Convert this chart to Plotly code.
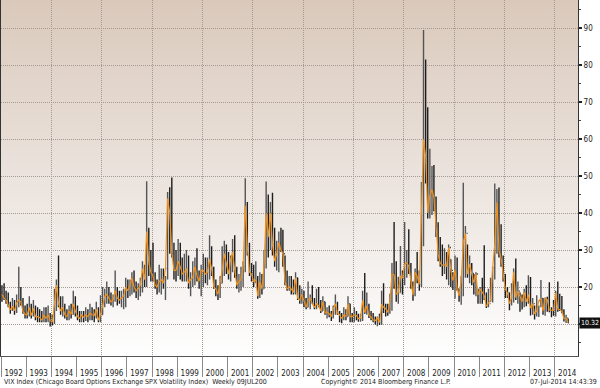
import base64
import pandas as pd
import plotly.graph_objects as go

# Monthly VIX bars (Jan 1992 .. Jul 2014): high, low, close
highs = [
    20.5, 21.0, 19.0, 18.5, 16.0, 17.0, 16.5, 18.0, 25.5, 20.0, 17.0, 15.0,   # 1992
    15.5, 17.5, 15.5, 16.5, 15.0, 14.5, 14.0, 13.5, 14.5, 14.5, 15.0, 13.0,   # 1993
    12.5, 19.5, 22.0, 28.5, 17.5, 17.5, 15.5, 14.0, 15.0, 15.5, 19.0, 17.5,   # 1994
    15.0, 13.5, 13.5, 13.5, 14.5, 14.0, 15.5, 14.5, 14.0, 16.0, 14.5, 17.8,   # 1995
    20.0, 19.5, 21.5, 20.0, 18.5, 18.0, 24.5, 20.0, 19.0, 19.0, 19.5, 22.5,   # 1996
    22.0, 22.0, 24.0, 24.5, 21.5, 21.0, 22.5, 27.0, 26.0, 48.6, 36.0, 30.0,   # 1997
    32.0, 24.0, 22.0, 26.0, 25.0, 25.0, 23.0, 45.7, 47.0, 49.6, 32.0, 30.0,   # 1998
    33.0, 32.0, 28.0, 29.0, 30.0, 28.5, 24.0, 27.0, 28.0, 30.5, 24.5, 26.0,   # 1999
    29.0, 28.0, 28.0, 34.0, 31.0, 25.5, 22.0, 20.5, 23.0, 31.0, 32.5, 31.5,   # 2000
    29.5, 28.5, 33.0, 34.0, 25.5, 23.5, 25.5, 27.0, 49.4, 43.0, 32.0, 26.5,   # 2001
    26.0, 27.0, 23.0, 24.0, 23.5, 30.0, 48.5, 45.0, 43.0, 45.5, 36.0, 32.5,   # 2002
    35.0, 36.0, 35.5, 28.5, 24.5, 23.0, 23.0, 22.0, 24.0, 22.5, 20.5, 19.5,   # 2003
    19.0, 17.0, 21.5, 18.0, 20.5, 17.0, 19.5, 20.0, 16.5, 17.5, 16.0, 14.5,   # 2004
    15.0, 13.5, 15.0, 18.0, 16.0, 13.5, 13.0, 14.5, 14.0, 17.5, 15.5, 13.0,   # 2005
    14.5, 13.5, 12.8, 12.8, 19.0, 23.8, 18.5, 15.5, 13.5, 13.0, 12.0, 12.0,   # 2006
    12.8, 19.0, 21.0, 15.5, 15.5, 18.2, 26.5, 37.6, 27.0, 22.8, 31.1, 24.5,   # 2007
    37.6, 30.0, 35.6, 26.5, 21.5, 25.0, 29.5, 24.5, 48.4, 89.5, 81.5, 68.6,   # 2008
    57.4, 52.7, 53.0, 44.5, 37.5, 33.5, 31.5, 30.5, 29.5, 31.5, 27.5, 24.0,   # 2009
    28.5, 28.0, 19.5, 23.0, 48.2, 36.5, 31.5, 28.5, 26.5, 23.5, 24.0, 19.5,   # 2010
    20.0, 22.5, 31.3, 18.5, 19.5, 22.5, 25.5, 48.0, 46.5, 46.9, 37.0, 28.5,   # 2011
    23.5, 20.0, 18.5, 21.0, 25.0, 27.7, 21.5, 18.5, 18.0, 19.5, 20.5, 23.2,   # 2012
    22.7, 17.0, 15.0, 17.8, 15.0, 21.9, 17.0, 17.1, 17.4, 21.3, 14.5, 16.5,   # 2013
    19.0, 21.5, 18.2, 17.6, 14.0, 12.5, 11.5,                                 # 2014
]
lows = [
    16.0, 16.5, 15.5, 14.5, 12.8, 13.5, 12.5, 13.0, 14.5, 15.0, 12.8, 11.5,
    11.5, 12.0, 11.5, 12.0, 11.0, 10.5, 10.5, 10.5, 10.5, 10.5, 10.5, 9.3,
    9.6, 10.0, 13.5, 14.5, 12.5, 12.0, 11.5, 11.0, 11.0, 11.5, 12.5, 12.0,
    11.0, 10.5, 10.5, 10.5, 10.8, 10.5, 11.0, 11.0, 10.5, 11.5, 10.5, 10.5,
    12.5, 14.5, 15.5, 15.5, 15.0, 14.5, 16.0, 15.0, 15.5, 14.5, 14.0, 14.5,
    17.0, 17.5, 18.0, 18.5, 17.0, 16.5, 17.5, 18.5, 20.0, 20.0, 23.0, 21.5,
    21.5, 19.5, 18.0, 18.5, 18.0, 19.5, 16.5, 22.0, 29.0, 28.0, 22.0, 21.5,
    23.0, 22.0, 21.5, 21.5, 21.5, 19.5, 17.5, 20.0, 20.5, 21.5, 19.5, 17.5,
    20.0, 21.0, 20.5, 22.0, 23.0, 19.5, 17.5, 16.5, 17.0, 21.0, 23.0, 23.5,
    22.0, 21.5, 24.0, 22.5, 19.5, 18.5, 19.0, 20.0, 24.0, 28.5, 23.0, 21.5,
    20.0, 21.0, 16.8, 17.0, 18.0, 19.5, 25.0, 28.0, 30.0, 28.5, 25.5, 24.5,
    24.0, 29.5, 25.5, 20.5, 19.0, 19.0, 18.0, 18.0, 18.0, 16.5, 15.5, 15.5,
    14.5, 14.0, 14.5, 14.0, 15.5, 14.0, 14.0, 14.5, 13.0, 13.5, 12.5, 11.5,
    11.8, 10.8, 11.5, 12.5, 12.5, 10.5, 10.2, 11.0, 11.0, 12.0, 10.5, 10.5,
    10.5, 11.0, 10.6, 10.6, 10.8, 12.8, 12.5, 11.6, 11.0, 10.5, 9.9, 9.4,
    9.7, 9.7, 13.0, 12.0, 12.2, 12.8, 13.6, 19.5, 16.0, 15.5, 18.5, 18.0,
    20.5, 22.5, 23.5, 19.5, 16.3, 17.5, 21.0, 19.0, 20.0, 31.0, 48.0, 38.5,
    38.5, 39.5, 40.5, 33.5, 27.0, 25.5, 23.0, 23.5, 22.0, 20.5, 20.0, 19.2,
    16.8, 19.0, 16.0, 15.2, 17.5, 22.5, 22.5, 21.0, 20.5, 18.0, 17.5, 15.5,
    15.5, 15.5, 16.5, 14.3, 14.5, 16.0, 15.8, 22.0, 29.0, 28.0, 25.5, 21.5,
    17.0, 17.0, 13.7, 15.0, 15.8, 16.5, 15.5, 13.3, 13.9, 14.5, 14.8, 15.5,
    12.3, 12.5, 11.2, 12.0, 11.9, 14.5, 12.5, 12.2, 13.3, 13.2, 11.8, 12.2,
    12.0, 13.3, 13.5, 12.9, 10.7, 10.3, 10.3,
]
closes = [
    18.0, 17.0, 16.5, 15.0, 13.8, 14.8, 13.6, 15.7, 16.5, 16.0, 13.4, 12.6,
    12.4, 14.5, 12.3, 14.2, 12.0, 12.0, 11.8, 11.0, 12.5, 11.5, 12.5, 11.0,
    10.5, 15.5, 20.5, 15.5, 13.5, 14.5, 12.5, 12.0, 13.5, 12.6, 15.5, 13.5,
    12.0, 11.5, 12.5, 11.8, 12.5, 12.0, 13.0, 12.5, 12.3, 14.0, 11.0, 12.5,
    15.5, 17.5, 18.0, 17.0, 16.0, 16.5, 19.0, 17.0, 16.5, 17.0, 17.5, 20.0,
    19.0, 20.5, 22.5, 20.0, 19.0, 19.5, 20.5, 25.0, 22.0, 35.0, 26.5, 24.0,
    23.0, 20.5, 20.0, 21.5, 22.0, 21.0, 25.0, 44.0, 40.0, 29.0, 24.5, 24.5,
    27.0, 25.5, 23.5, 24.0, 25.0, 21.0, 22.0, 22.5, 25.5, 23.0, 21.5, 24.5,
    24.5, 23.5, 24.0, 27.5, 25.0, 20.0, 19.5, 18.0, 21.0, 24.5, 29.0, 26.0,
    23.5, 27.5, 29.5, 24.5, 20.5, 21.5, 22.0, 25.5, 42.0, 31.0, 24.0, 23.5,
    21.5, 22.0, 17.5, 21.5, 19.5, 26.0, 40.0, 33.5, 40.0, 31.5, 27.0, 29.0,
    32.0, 30.0, 29.0, 21.5, 19.5, 20.0, 19.5, 18.5, 22.5, 17.0, 16.5, 18.0,
    16.5, 14.5, 16.5, 17.0, 15.5, 14.5, 15.5, 15.0, 13.5, 16.0, 13.0, 13.3,
    12.8, 12.0, 14.0, 15.5, 13.0, 12.5, 11.5, 12.5, 12.0, 15.5, 12.0, 12.0,
    12.5, 12.3, 11.4, 11.6, 16.4, 13.1, 14.9, 12.3, 11.9, 11.1, 10.9, 11.6,
    10.4, 15.4, 14.6, 14.2, 13.1, 16.2, 23.5, 23.4, 18.0, 18.5, 22.9, 22.5,
    26.2, 26.5, 25.6, 20.8, 17.8, 24.0, 22.9, 20.7, 39.4, 59.9, 55.3, 40.0,
    44.8, 46.4, 44.1, 36.5, 28.9, 26.4, 25.9, 26.0, 25.6, 30.7, 24.5, 21.7,
    24.6, 19.5, 17.6, 22.0, 32.1, 34.5, 23.5, 26.1, 23.7, 21.2, 23.5, 17.8,
    19.5, 18.4, 17.7, 14.8, 15.5, 16.5, 25.3, 31.6, 42.9, 29.9, 27.8, 23.4,
    19.4, 18.4, 15.5, 17.2, 24.1, 17.1, 18.9, 17.5, 16.0, 18.6, 16.0, 18.0,
    14.3, 15.5, 12.7, 13.5, 16.3, 16.9, 13.5, 17.0, 16.6, 13.8, 13.7, 13.7,
    18.4, 14.0, 13.9, 13.4, 11.4, 11.6, 10.32,
]
first_open = 18.5
years = list(range(1992, 2015))
y_ticks = [10, 20, 30, 40, 50, 60, 70, 80, 90]

title_text = "VIX Index (Chicago Board Options Exchange SPX Volatility Index)  Weekly 09JUL200"
copyright_text = "Copyright\u00a9 2014 Bloomberg Finance L.P."
stamp_text = "07-Jul-2014 14:43:39"

# ---- build table ----
dates = pd.date_range("1992-01-01", periods=len(closes), freq="MS") + pd.Timedelta(days=14)
opens = [first_open] + closes[:-1]
mid_years = [f"{y}-07-02" for y in years]
# the last-value tag sits over the lowest tick label, as in the original
y_ticktext = ["" if v == 10 else str(v) for v in y_ticks]

FONT = "Liberation Sans Narrow, DejaVu Sans Condensed, Arial Narrow, Liberation Sans, sans-serif"

fig = go.Figure()
fig.add_trace(go.Ohlc(
    x=dates, open=opens, high=highs, low=lows, close=closes,
    increasing=dict(line=dict(color="#555555", width=1.4)),
    decreasing=dict(line=dict(color="#1e1e1e", width=1.4)),
    tickwidth=0.4, showlegend=False, hoverinfo="skip",
))
fig.add_trace(go.Scatter(
    x=dates, y=closes, mode="lines", line=dict(color="#f39016", width=1.1),
    showlegend=False, hoverinfo="skip",
))
fig.add_trace(go.Scatter(x=mid_years, y=[None] * len(mid_years), xaxis="x2",
                         mode="markers", showlegend=False, hoverinfo="skip"))

svg = ('<svg xmlns="http://www.w3.org/2000/svg" viewBox="0 0 100 100" preserveAspectRatio="none">'
       '<defs><linearGradient id="g" x1="0" y1="0" x2="0" y2="1">'
       '<stop offset="0" stop-color="#dac9bb"/><stop offset="0.5" stop-color="#ebe3dd"/>'
       '<stop offset="1" stop-color="#fefefe"/></linearGradient></defs>'
       '<rect x="0" y="0" width="100" height="100" fill="url(#g)"/></svg>')
bg_uri = "data:image/svg+xml;base64," + base64.b64encode(svg.encode()).decode()

grid_col = "#a39a93"
fig.update_layout(
    width=600, height=388,
    margin=dict(l=1, r=22, t=0, b=32),
    paper_bgcolor="white", plot_bgcolor="rgba(0,0,0,0)",
    font=dict(family=FONT, size=8, color="#222"),
    images=[dict(source=bg_uri, xref="paper", yref="paper", x=0, y=1, sizex=1, sizey=1,
                 xanchor="left", yanchor="top", sizing="stretch", layer="below")],
    xaxis=dict(
        type="date", range=["1992-01-01", "2014-12-05"],
        rangeslider=dict(visible=False),
        tick0="1992-01-01", dtick="M24", showticklabels=False,
        ticks="outside", ticklen=20, tickcolor="#8a8a8a", tickwidth=1,
        minor=dict(tick0="1992-01-01", dtick="M12", ticks="outside", ticklen=20,
                   tickcolor="#8a8a8a", tickwidth=1, showgrid=False),
        showgrid=True, gridcolor=grid_col, griddash="1px,1px", gridwidth=1,
        showline=True, linecolor="#555", linewidth=1, zeroline=False,
    ),
    xaxis2=dict(
        type="date", overlaying="x", matches="x", side="bottom", anchor="y",
        tickmode="array", tickvals=mid_years, ticktext=[str(y) for y in years],
        ticks="outside", ticklen=9, tickcolor="rgba(0,0,0,0)",
        showgrid=False, showline=False, zeroline=False,
        tickfont=dict(family=FONT, size=8, color="#222"),
    ),
    yaxis=dict(
        side="right", range=[1.35, 97.6],
        tickmode="array", tickvals=y_ticks, ticktext=y_ticktext,
        ticks="outside", ticklen=3, tickwidth=2, tickcolor="#222",
        minor=dict(dtick=5, tick0=0, ticks="outside", ticklen=2, tickwidth=1, tickcolor="#444", showgrid=False),
        showgrid=True, gridcolor=grid_col, griddash="1px,1px", gridwidth=1,
        showline=True, linecolor="#333", linewidth=1, mirror=True, zeroline=False,
        tickfont=dict(family=FONT, size=8, color="#222"),
    ),
    annotations=[
        dict(xref="paper", yref="y", x=1, y=closes[-1], xanchor="left", yanchor="middle",
             xshift=1, text=f"{closes[-1]:.2f}", showarrow=False, bgcolor="#111",
             font=dict(family=FONT, size=7, color="white"), borderpad=1),
        dict(xref="paper", yref="paper", x=0, y=-0.073, xanchor="left", yanchor="middle",
             xshift=1, text=title_text, showarrow=False, font=dict(family=FONT, size=7, color="#222")),
        dict(xref="paper", yref="paper", x=0.667, y=-0.073, xanchor="center", yanchor="middle",
             text=copyright_text, showarrow=False, font=dict(family=FONT, size=7, color="#222")),
        dict(xref="paper", yref="paper", x=1.036, y=-0.073, xanchor="right", yanchor="middle",
             text=stamp_text, showarrow=False, font=dict(family=FONT, size=7, color="#222")),
    ],
)

fig.write_html("out.html", config={"displayModeBar": False},
               post_script="document.body.style.margin='0';")
